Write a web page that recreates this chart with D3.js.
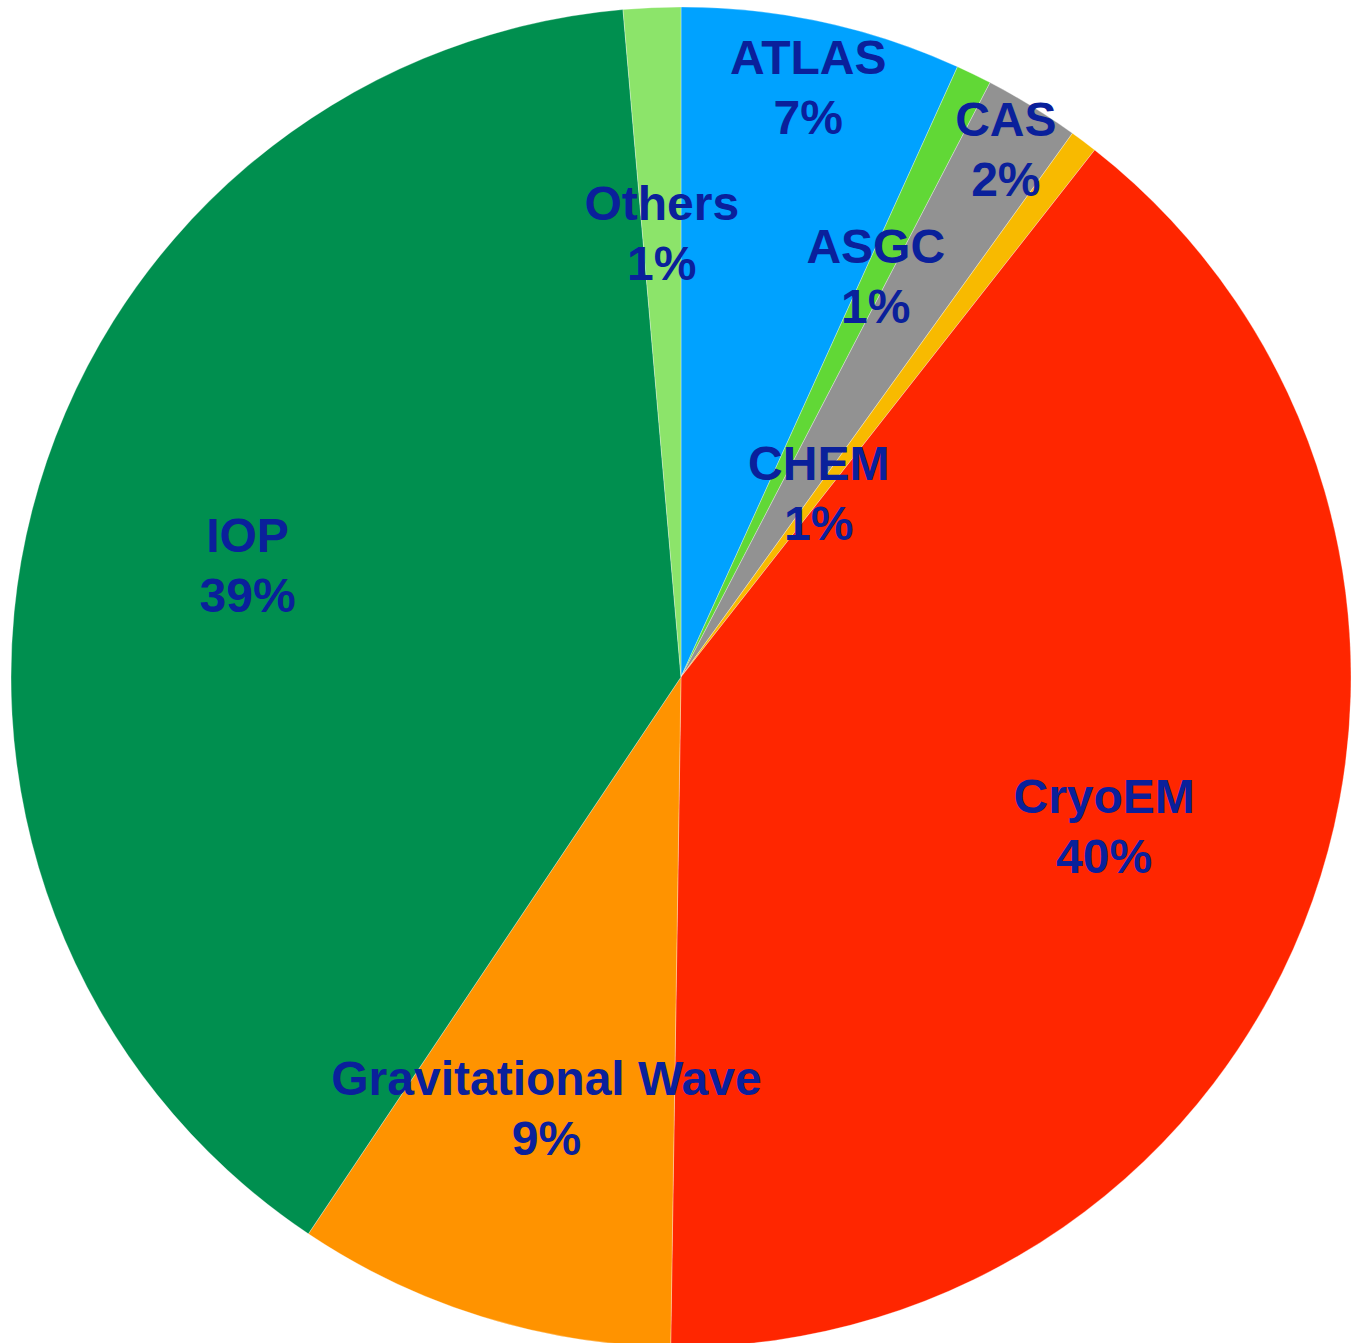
<!DOCTYPE html>
<html>
<head>
<meta charset="utf-8">
<script src="https://cdn.jsdelivr.net/npm/d3@7"></script>
<style>
  html, body { margin: 0; padding: 0; background: #ffffff; }
  svg { display: block; }
</style>
</head>
<body>
<svg id="chart" width="1353" height="1343"></svg>
<script>
const categories = ["ATLAS", "ASGC", "CAS", "CHEM", "CryoEM", "Gravitational Wave", "IOP", "Others"];
const values = [6.77, 0.86, 2.30, 0.66, 39.65, 9.14, 39.23, 1.38];
const colors = ["#00a2ff", "#61d836", "#929292", "#f8ba00", "#ff2600", "#ff9300", "#008f4f", "#8ce46a"];
const labelRadius = [0.90, 0.665, 0.925, 0.342, 0.67, 0.674, 0.668, 0.663];

const width = 1353, height = 1343;
const cx = 681, cy = 677, r = 670;

const svg = d3.select("#chart");
const g = svg.append("g").attr("transform", `translate(${cx},${cy})`);

const data = categories.map((c, i) => ({ name: c, value: values[i], color: colors[i], lr: labelRadius[i] }));
const total = d3.sum(values);

const pie = d3.pie().value(d => d.value).sort(null).startAngle(0).endAngle(2 * Math.PI);
const arcs = pie(data);

const arc = d3.arc().innerRadius(0).outerRadius(r);

g.selectAll("path.slice")
  .data(arcs)
  .join("path")
  .attr("class", "slice")
  .attr("d", arc)
  .attr("fill", d => d.data.color)
  .attr("stroke", "rgba(255,255,255,0.5)")
  .attr("stroke-width", 0.6);

const labels = g.selectAll("g.label")
  .data(arcs)
  .join("g")
  .attr("class", "label")
  .attr("transform", d => {
    const lr = d.data.lr * r;
    const c = d3.arc().innerRadius(lr).outerRadius(lr).centroid(d);
    return `translate(${c[0]},${c[1]})`;
  });

const fontFamily = "'Liberation Sans', Arial, Helvetica, sans-serif";
labels.append("text")
  .attr("y", -30)
  .attr("text-anchor", "middle")
  .attr("dominant-baseline", "central")
  .attr("font-family", fontFamily)
  .attr("font-weight", "bold")
  .attr("font-size", 48)
  .attr("fill", "#0a209b")
  .text(d => d.data.name);

labels.append("text")
  .attr("y", 30)
  .attr("text-anchor", "middle")
  .attr("dominant-baseline", "central")
  .attr("font-family", fontFamily)
  .attr("font-weight", "bold")
  .attr("font-size", 48)
  .attr("fill", "#0a209b")
  .text(d => Math.round(d.data.value / total * 100) + "%");
</script>
</body>
</html>
